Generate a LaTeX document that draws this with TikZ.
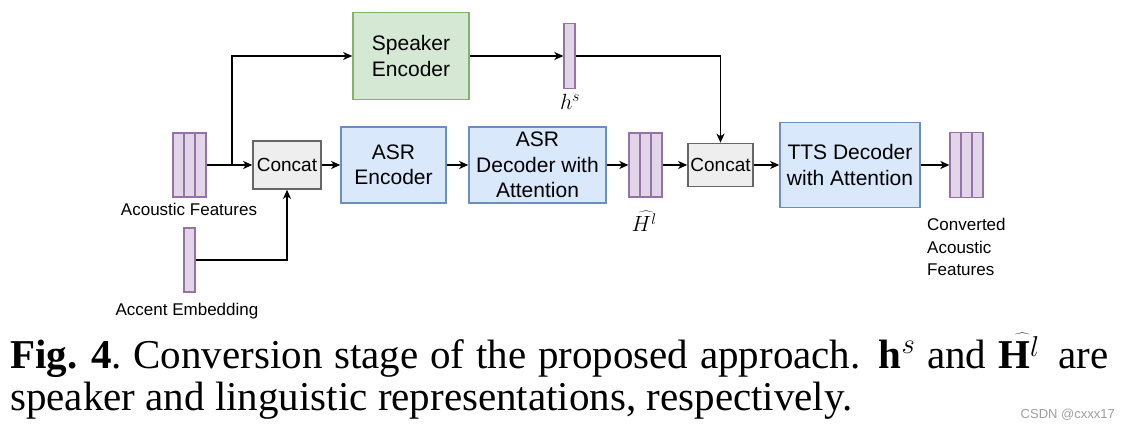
\documentclass[tikz,border=0pt]{standalone}
\usepackage{fix-cm}
\usepackage{fontspec}
\setmainfont{Liberation Serif}
\newfontfamily\diagfont{Liberation Sans}
\usetikzlibrary{arrows.meta,calc}
\definecolor{grfill}{HTML}{D5E8D4}
\definecolor{grline}{HTML}{82B366}
\definecolor{blfill}{HTML}{DAE8FC}
\definecolor{blline}{HTML}{6C8EBF}
\definecolor{pufill}{HTML}{E1D5E7}
\definecolor{puline}{HTML}{9673A6}
\definecolor{gyfill}{HTML}{EEEEEE}
\definecolor{gyline}{HTML}{666666}
\begin{document}
\begin{tikzpicture}[x=1pt,y=-1pt,
  box/.style={draw,line width=1.6pt,align=center,inner sep=0pt,
    font=\diagfont\fontsize{21}{25.5}\selectfont},
  spkbox/.style={box,fill=grfill,draw=grline},
  bluebox/.style={box,fill=blfill,draw=blline},
  catbox/.style={box,fill=gyfill,draw=gyline,font=\diagfont\fontsize{19}{23}\selectfont},
  vecbar/.style={draw=puline,fill=pufill,line width=1.3pt,minimum width=11pt,
    minimum height=64pt,inner sep=0pt},
  featbars/.style={vecbar,minimum width=33pt,
    path picture={
      \draw[puline,line width=1.3pt]
        ($(path picture bounding box.north west)!1/3!(path picture bounding box.north east)$) --
        ($(path picture bounding box.south west)!1/3!(path picture bounding box.south east)$)
        ($(path picture bounding box.north west)!2/3!(path picture bounding box.north east)$) --
        ($(path picture bounding box.south west)!2/3!(path picture bounding box.south east)$);
    }},
  lbl/.style={inner sep=0pt,font=\diagfont\fontsize{17}{22.5}\selectfont},
  mlbl/.style={inner sep=0pt,font=\fontsize{22}{22}\selectfont},
  conn/.style={line width=1.3pt,-{Stealth[length=9pt,width=8pt,inset=2.5pt]}},
]
\useasboundingbox[fill=white] (0,0) rectangle (1130,428);

% nodes
\node[featbars] (af) at (189.5,165) {};
\node[vecbar] (acc) at (189.5,260) {};
\node[catbox,minimum width=68pt,minimum height=48pt] (c1) at (287,165) {Concat};
\node[spkbox,minimum width=116pt,minimum height=87pt] (spk) at (411,56) {Speaker\\Encoder};
\node[vecbar,minimum height=65pt] (hs) at (569.5,56) {};
\node[bluebox,minimum width=105pt,minimum height=76pt] (asrenc) at (393.5,165) {ASR\\Encoder};
\node[bluebox,minimum width=137pt,minimum height=76pt] (asrdec) at (537.5,165) {ASR\\Decoder with\\Attention};
\node[featbars] (hl) at (645.5,165) {};
\node[catbox,minimum width=65pt,minimum height=43pt] (c2) at (720.5,165) {Concat};
\node[bluebox,minimum width=140pt,minimum height=85pt] (tts) at (850,165) {TTS Decoder\\with Attention};
\node[featbars,minimum height=65pt] (out) at (966.5,165) {};

% labels
\node[lbl] (aflbl) at (189,209) {Acoustic Features};
\node[lbl] (acclbl) at (187,311) {Accent Embedding};
\node[mlbl] (hslbl) at (570,102) {$h^s$};
\node[mlbl] (hllbl) at (646,221) {$\widehat{H^{l}\,}$};
\node[lbl,align=left,anchor=west] (outlbl) at (927,247) {Converted\\Acoustic\\Features};

% connectors
\coordinate (br) at (232,165);
\draw[conn] (af.east) -- (c1.west);
\draw[conn] (br) |- (spk.west);
\draw[conn] (acc.east) -| (c1.south);
\draw[conn] (c1.east) -- (asrenc.west);
\draw[conn] (asrenc.east) -- (asrdec.west);
\draw[conn] (asrdec.east) -- (hl.west);
\draw[conn] (hl.east) -- (c2.west);
\draw[conn] (c2.east) -- (tts.west);
\draw[conn] (tts.east) -- (out.west);
\draw[conn] (spk.east) -- (hs.west);
\draw[conn] (hs.east) -| (c2.north);

% caption
\node[anchor=base west,inner sep=0pt,font=\fontsize{41}{42}\selectfont] (cap1) at (10,368)
  {\makebox[1098pt][s]{\mbox{\textbf{Fig. 4}.} Conversion stage of the proposed approach. $\mathbf{h}^s$ and $\widehat{\mathbf{H}^{l}\,}$ are}};
\node[anchor=base west,inner sep=0pt,font=\fontsize{41}{42}\selectfont] (cap2) at (10,410)
  {speaker and linguistic representations, respectively.};
\node[anchor=base east,inner sep=0pt,text=gray!75,font=\diagfont\fontsize{13}{13}\selectfont] (wm) at (1115,418) {CSDN @cxxx17};
\end{tikzpicture}
\end{document}
